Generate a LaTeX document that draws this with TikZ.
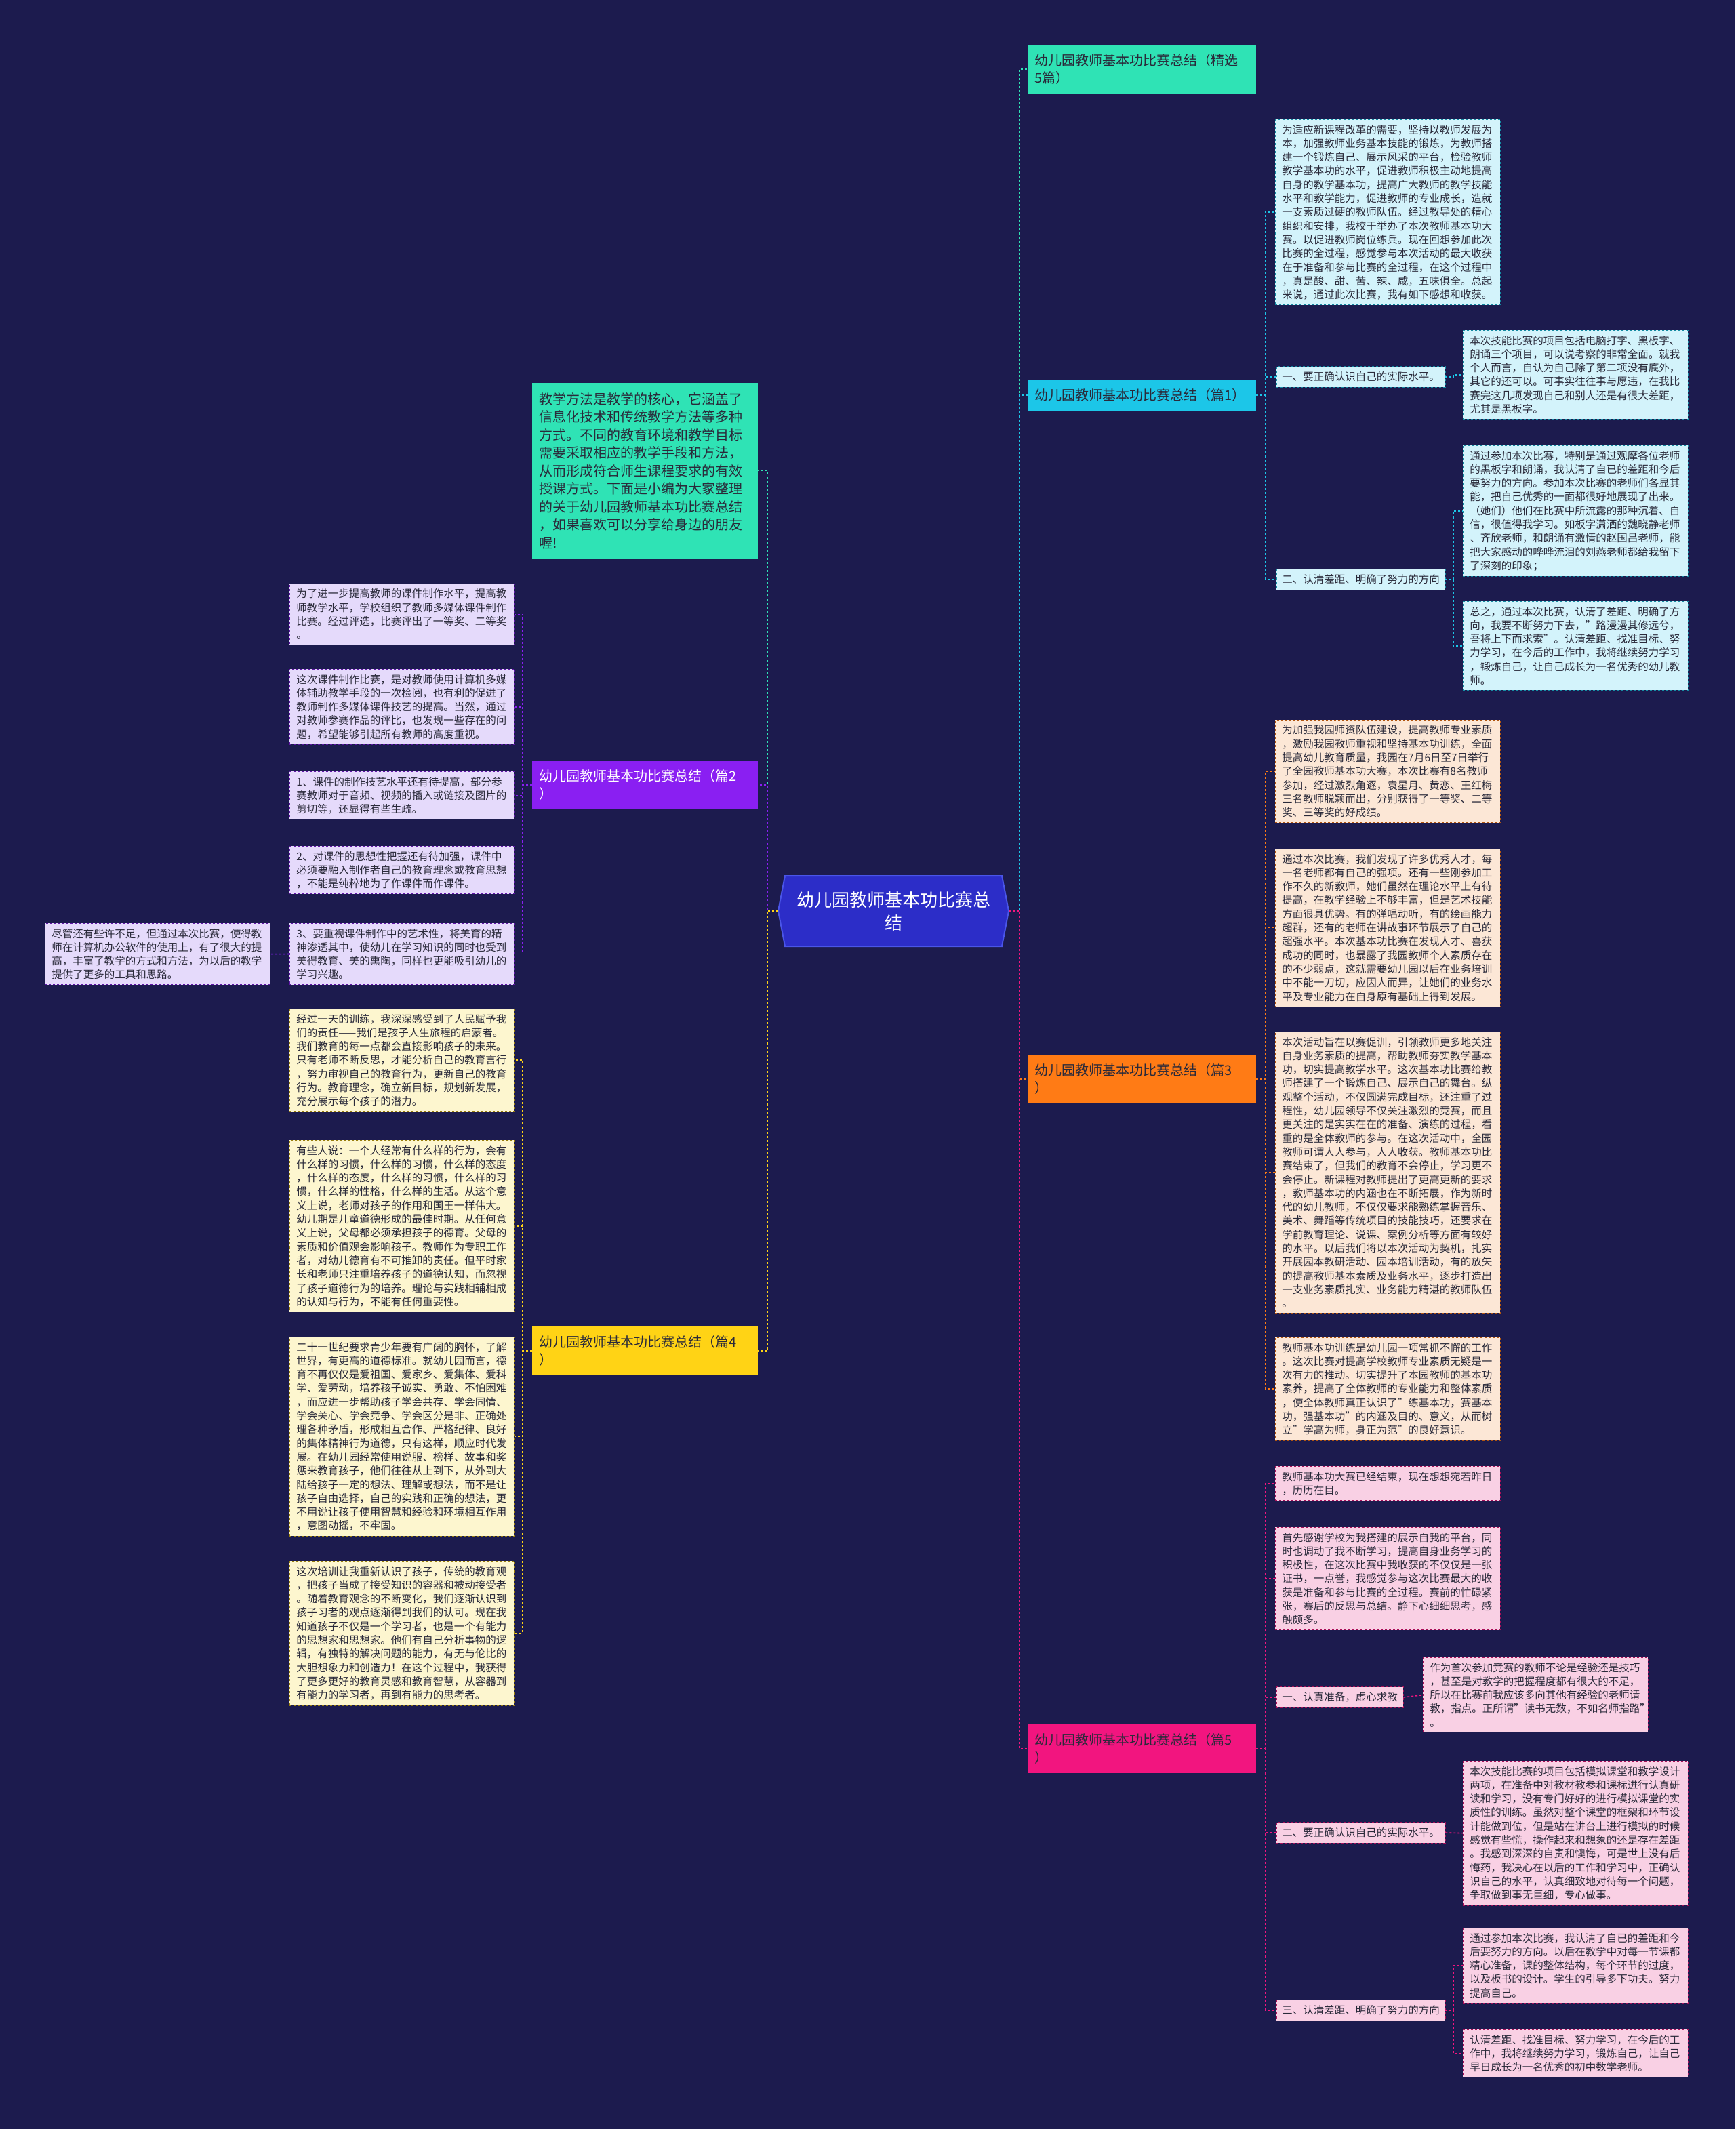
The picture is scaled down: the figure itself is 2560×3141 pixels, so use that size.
\documentclass[tikz,border=0pt]{standalone}
\usepackage{fontspec}
\setmainfont{Noto Sans CJK SC}
\definecolor{bgnavy}{HTML}{1C1B4E}
\definecolor{textdark}{HTML}{2A2A3A}
\definecolor{croot}{HTML}{2C2DC8}
\definecolor{crootline}{HTML}{4A55E8}
\definecolor{cteal}{HTML}{2FE3B5}
\definecolor{ccyan}{HTML}{1CC6E8}
\definecolor{cviolet}{HTML}{8A1FF2}
\definecolor{corange}{HTML}{FF7B15}
\definecolor{cyellow}{HTML}{FFD315}
\definecolor{cpink}{HTML}{F2157F}
\definecolor{lcyan}{HTML}{D3F3FB}
\definecolor{lviolet}{HTML}{E5DAFB}
\definecolor{lorange}{HTML}{FCE7D6}
\definecolor{lyellow}{HTML}{FDF6CF}
\definecolor{lpink}{HTML}{F9D0E4}
\tikzset{
  textbox/.style={rectangle, anchor=north west, text width=312pt, inner xsep=10pt, inner ysep=7.5pt, align=left, font=\fontsize{15.5}{20.3}\selectfont, text=textdark, dashed, line width=0.8pt},
  branch/.style={rectangle, anchor=north west, text width=317pt, inner xsep=10pt, inner ysep=13.5pt, align=left, font=\fontsize{20}{26}\selectfont, text=textdark},
  sublabel/.style={rectangle, anchor=west, inner xsep=8pt, inner ysep=8pt, font=\fontsize{15.5}{20.3}\selectfont, text=textdark, dashed, line width=0.8pt},
  link/.style={dashed, line width=1.6pt},
  cyanbox/.style={textbox, fill=lcyan, draw=ccyan!70!black},
  violetbox/.style={textbox, fill=lviolet, draw=cviolet!70!black},
  orangebox/.style={textbox, fill=lorange, draw=corange!70!black},
  yellowbox/.style={textbox, fill=lyellow, draw=cyellow!60!black},
  pinkbox/.style={textbox, fill=lpink, draw=cpink!70!black}
}

\begin{document}
\begin{tikzpicture}[x=1pt, y=-1pt]
  \useasboundingbox (0,0) rectangle (2560,3141);
  \fill[bgnavy] (0,0) rectangle (2560,3141);

  % pusat
  \filldraw [fill=croot, draw=crootline, line width=2pt] (1158,1292) -- (1478,1292) -- (1488,1344) -- (1478,1396) -- (1158,1396) -- (1148,1344) -- cycle;
  \node (root) [rectangle, minimum width=340pt, minimum height=104pt, text=white, align=center, font=\fontsize{26}{34}\selectfont] at (1318,1344) {幼儿园教师基本功比赛总\\结};

  % cabang kanan
  \node (title) [branch, fill=cteal] at (1516,66) {幼儿园教师基本功比赛总结（精选\\5篇）};
  \node (part1) [branch, fill=ccyan] at (1516,560) {幼儿园教师基本功比赛总结（篇1）};
  \node (part3) [branch, fill=corange] at (1516,1556) {幼儿园教师基本功比赛总结（篇3\\）};
  \node (part5) [branch, fill=cpink] at (1516,2544) {幼儿园教师基本功比赛总结（篇5\\）};

  % cabang kiri
  \node (intro) [branch, fill=cteal, text width=313pt, inner ysep=14pt, font=\fontsize{20}{26.5}\selectfont] at (785,565) {教学方法是教学的核心，它涵盖了\\信息化技术和传统教学方法等多种\\方式。不同的教育环境和教学目标\\需要采取相应的教学手段和方法，\\从而形成符合师生课程要求的有效\\授课方式。下面是小编为大家整理\\的关于幼儿园教师基本功比赛总结\\，如果喜欢可以分享给身边的朋友\\喔!};
  \node (part2) [branch, fill=cviolet, text width=313pt, text=white] at (785,1122) {幼儿园教师基本功比赛总结（篇2\\）};
  \node (part4) [branch, fill=cyellow, text width=313pt] at (785,1957) {幼儿园教师基本功比赛总结（篇4\\）};

  % 篇1
  \node (p1a) [cyanbox] at (1881,176) {为适应新课程改革的需要，坚持以教师发展为\\本，加强教师业务基本技能的锻炼，为教师搭\\建一个锻炼自己、展示风采的平台，检验教师\\教学基本功的水平，促进教师积极主动地提高\\自身的教学基本功，提高广大教师的教学技能\\水平和教学能力，促进教师的专业成长，造就\\一支素质过硬的教师队伍。经过教导处的精心\\组织和安排，我校于举办了本次教师基本功大\\赛。以促进教师岗位练兵。现在回想参加此次\\比赛的全过程，感觉参与本次活动的最大收获\\在于准备和参与比赛的全过程，在这个过程中\\，真是酸、甜、苦、辣、咸，五味俱全。总起\\来说，通过此次比赛，我有如下感想和收获。};
  \node (p1lab1) [sublabel, fill=lcyan, draw=ccyan!70!black] at (1883,556) {一、要正确认识自己的实际水平。};
  \node (p1lab2) [sublabel, fill=lcyan, draw=ccyan!70!black] at (1883,855) {二、认清差距、明确了努力的方向};
  \node (p1b) [cyanbox] at (2158,487) {本次技能比赛的项目包括电脑打字、黑板字、\\朗诵三个项目，可以说考察的非常全面。就我\\个人而言，自认为自己除了第二项没有底外，\\其它的还可以。可事实往往事与愿违，在我比\\赛完这几项发现自己和别人还是有很大差距，\\尤其是黑板字。};
  \node (p1c) [cyanbox] at (2158,657) {通过参加本次比赛，特别是通过观摩各位老师\\的黑板字和朗诵，我认清了自已的差距和今后\\要努力的方向。参加本次比赛的老师们各显其\\能，把自己优秀的一面都很好地展现了出来。\\（她们）他们在比赛中所流露的那种沉着、自\\信，很值得我学习。如板字潇洒的魏晓静老师\\、齐欣老师，和朗诵有激情的赵国昌老师，能\\把大家感动的哗哗流泪的刘燕老师都给我留下\\了深刻的印象；};
  \node (p1d) [cyanbox] at (2158,887) {总之，通过本次比赛，认清了差距、明确了方\\向，我要不断努力下去，"路漫漫其修远兮，\\吾将上下而求索"。认清差距、找准目标、努\\力学习，在今后的工作中，我将继续努力学习\\，锻炼自己，让自己成长为一名优秀的幼儿教\\师。};

  % 篇2
  \node (p2a) [violetbox] at (427,861) {为了进一步提高教师的课件制作水平，提高教\\师教学水平，学校组织了教师多媒体课件制作\\比赛。经过评选，比赛评出了一等奖、二等奖\\。};
  \node (p2b) [violetbox] at (427,987) {这次课件制作比赛，是对教师使用计算机多媒\\体辅助教学手段的一次检阅，也有利的促进了\\教师制作多媒体课件技艺的提高。当然，通过\\对教师参赛作品的评比，也发现一些存在的问\\题，希望能够引起所有教师的高度重视。};
  \node (p2c) [violetbox] at (427,1138) {1、课件的制作技艺水平还有待提高，部分参\\赛教师对于音频、视频的插入或链接及图片的\\剪切等，还显得有些生疏。};
  \node (p2d) [violetbox] at (427,1248) {2、对课件的思想性把握还有待加强，课件中\\必须要融入制作者自己的教育理念或教育思想\\，不能是纯粹地为了作课件而作课件。};
  \node (p2e) [violetbox] at (427,1362) {3、要重视课件制作中的艺术性，将美育的精\\神渗透其中，使幼儿在学习知识的同时也受到\\美得教育、美的熏陶，同样也更能吸引幼儿的\\学习兴趣。};
  \node (p2f) [violetbox] at (66,1362) {尽管还有些许不足，但通过本次比赛，使得教\\师在计算机办公软件的使用上，有了很大的提\\高，丰富了教学的方式和方法，为以后的教学\\提供了更多的工具和思路。};

  % 篇3
  \node (p3a) [orangebox] at (1881,1062) {为加强我园师资队伍建设，提高教师专业素质\\，激励我园教师重视和坚持基本功训练，全面\\提高幼儿教育质量，我园在7月6日至7日举行\\了全园教师基本功大赛，本次比赛有8名教师\\参加，经过激烈角逐，袁星月、黄恋、王红梅\\三名教师脱颖而出，分别获得了一等奖、二等\\奖、三等奖的好成绩。};
  \node (p3b) [orangebox] at (1881,1252) {通过本次比赛，我们发现了许多优秀人才，每\\一名老师都有自己的强项。还有一些刚参加工\\作不久的新教师，她们虽然在理论水平上有待\\提高，在教学经验上不够丰富，但是艺术技能\\方面很具优势。有的弹唱动听，有的绘画能力\\超群，还有的老师在讲故事环节展示了自己的\\超强水平。本次基本功比赛在发现人才、喜获\\成功的同时，也暴露了我园教师个人素质存在\\的不少弱点，这就需要幼儿园以后在业务培训\\中不能一刀切，应因人而异，让她们的业务水\\平及专业能力在自身原有基础上得到发展。};
  \node (p3c) [orangebox] at (1881,1522) {本次活动旨在以赛促训，引领教师更多地关注\\自身业务素质的提高，帮助教师夯实教学基本\\功，切实提高教学水平。这次基本功比赛给教\\师搭建了一个锻炼自己、展示自己的舞台。纵\\观整个活动，不仅圆满完成目标，还注重了过\\程性，幼儿园领导不仅关注激烈的竞赛，而且\\更关注的是实实在在的准备、演练的过程，看\\重的是全体教师的参与。在这次活动中，全园\\教师可谓人人参与，人人收获。教师基本功比\\赛结束了，但我们的教育不会停止，学习更不\\会停止。新课程对教师提出了更高更新的要求\\，教师基本功的内涵也在不断拓展，作为新时\\代的幼儿教师，不仅仅要求能熟练掌握音乐、\\美术、舞蹈等传统项目的技能技巧，还要求在\\学前教育理论、说课、案例分析等方面有较好\\的水平。以后我们将以本次活动为契机，扎实\\开展园本教研活动、园本培训活动，有的放矢\\的提高教师基本素质及业务水平，逐步打造出\\一支业务素质扎实、业务能力精湛的教师队伍\\。};
  \node (p3d) [orangebox] at (1881,1973) {教师基本功训练是幼儿园一项常抓不懈的工作\\。这次比赛对提高学校教师专业素质无疑是一\\次有力的推动。切实提升了本园教师的基本功\\素养，提高了全体教师的专业能力和整体素质\\，使全体教师真正认识了"练基本功，赛基本\\功，强基本功"的内涵及目的、意义，从而树\\立"学高为师，身正为范"的良好意识。};

  % 篇4
  \node (p4a) [yellowbox] at (427,1488) {经过一天的训练，我深深感受到了人民赋予我\\们的责任——我们是孩子人生旅程的启蒙者。\\我们教育的每一点都会直接影响孩子的未来。\\只有老师不断反思，才能分析自己的教育言行\\，努力审视自己的教育行为，更新自己的教育\\行为。教育理念，确立新目标，规划新发展，\\充分展示每个孩子的潜力。};
  \node (p4b) [yellowbox] at (427,1682) {有些人说：一个人经常有什么样的行为，会有\\什么样的习惯，什么样的习惯，什么样的态度\\，什么样的态度，什么样的习惯，什么样的习\\惯，什么样的性格，什么样的生活。从这个意\\义上说，老师对孩子的作用和国王一样伟大。\\幼儿期是儿童道德形成的最佳时期。从任何意\\义上说，父母都必须承担孩子的德育。父母的\\素质和价值观会影响孩子。教师作为专职工作\\者，对幼儿德育有不可推卸的责任。但平时家\\长和老师只注重培养孩子的道德认知，而忽视\\了孩子道德行为的培养。理论与实践相辅相成\\的认知与行为，不能有任何重要性。};
  \node (p4c) [yellowbox] at (427,1972) {二十一世纪要求青少年要有广阔的胸怀，了解\\世界，有更高的道德标准。就幼儿园而言，德\\育不再仅仅是爱祖国、爱家乡、爱集体、爱科\\学、爱劳动，培养孩子诚实、勇敢、不怕困难\\，而应进一步帮助孩子学会共存、学会同情、\\学会关心、学会竞争、学会区分是非、正确处\\理各种矛盾，形成相互合作、严格纪律、良好\\的集体精神行为道德，只有这样，顺应时代发\\展。在幼儿园经常使用说服、榜样、故事和奖\\惩来教育孩子，他们往往从上到下，从外到大\\陆给孩子一定的想法、理解或想法，而不是让\\孩子自由选择，自己的实践和正确的想法，更\\不用说让孩子使用智慧和经验和环境相互作用\\，意图动摇，不牢固。};
  \node (p4d) [yellowbox] at (427,2303) {这次培训让我重新认识了孩子，传统的教育观\\，把孩子当成了接受知识的容器和被动接受者\\。随着教育观念的不断变化，我们逐渐认识到\\孩子习者的观点逐渐得到我们的认可。现在我\\知道孩子不仅是一个学习者，也是一个有能力\\的思想家和思想家。他们有自己分析事物的逻\\辑，有独特的解决问题的能力，有无与伦比的\\大胆想象力和创造力！在这个过程中，我获得\\了更多更好的教育灵感和教育智慧，从容器到\\有能力的学习者，再到有能力的思考者。};

  % 篇5
  \node (p5a) [pinkbox] at (1881,2163) {教师基本功大赛已经结束，现在想想宛若昨日\\，历历在目。};
  \node (p5b) [pinkbox] at (1881,2253) {首先感谢学校为我搭建的展示自我的平台，同\\时也调动了我不断学习，提高自身业务学习的\\积极性，在这次比赛中我收获的不仅仅是一张\\证书，一点誉，我感觉参与这次比赛最大的收\\获是准备和参与比赛的全过程。赛前的忙碌紧\\张，赛后的反思与总结。静下心细细思考，感\\触颇多。};
  \node (p5lab1) [sublabel, fill=lpink, draw=cpink!70!black] at (1883,2504) {一、认真准备，虚心求教};
  \node (p5lab2) [sublabel, fill=lpink, draw=cpink!70!black] at (1883,2704) {二、要正确认识自己的实际水平。};
  \node (p5lab3) [sublabel, fill=lpink, draw=cpink!70!black] at (1883,2966) {三、认清差距、明确了努力的方向};
  \node (p5c) [pinkbox] at (2099,2445) {作为首次参加竞赛的教师不论是经验还是技巧\\，甚至是对教学的把握程度都有很大的不足，\\所以在比赛前我应该多向其他有经验的老师请\\教，指点。正所谓"读书无数，不如名师指路"\\。};
  \node (p5d) [pinkbox] at (2158,2598) {本次技能比赛的项目包括模拟课堂和教学设计\\两项，在准备中对教材教参和课标进行认真研\\读和学习，没有专门好好的进行模拟课堂的实\\质性的训练。虽然对整个课堂的框架和环节设\\计能做到位，但是站在讲台上进行模拟的时候\\感觉有些慌，操作起来和想象的还是存在差距\\。我感到深深的自责和懊悔，可是世上没有后\\悔药，我决心在以后的工作和学习中，正确认\\识自己的水平，认真细致地对待每一个问题，\\争取做到事无巨细，专心做事。};
  \node (p5e) [pinkbox] at (2158,2844) {通过参加本次比赛，我认清了自已的差距和今\\后要努力的方向。以后在教学中对每一节课都\\精心准备，课的整体结构，每个环节的过度，\\以及板书的设计。学生的引导多下功夫。努力\\提高自己。};
  \node (p5f) [pinkbox] at (2158,2994) {认清差距、找准目标、努力学习，在今后的工\\作中，我将继续努力学习，锻炼自己，让自己\\早日成长为一名优秀的初中数学老师。};

  % garis pusat ke cabang
  \draw [link, cteal] (root.east) -- ++(16,0) |- (title.west);
  \draw [link, ccyan] (root.east) -- ++(16,0) |- (part1.west);
  \draw [link, corange] (root.east) -- ++(16,0) |- (part3.west);
  \draw [link, cpink] (root.east) -- ++(16,0) |- (part5.west);
  \draw [link, cteal] (root.west) -- ++(-16,0) |- (intro.east);
  \draw [link, cviolet] (root.west) -- ++(-16,0) |- (part2.east);
  \draw [link, cyellow] (root.west) -- ++(-16,0) |- (part4.east);

  % garis 篇1
  \foreach \n in {p1a, p1lab1, p1lab2}
    \draw [link, ccyan] (part1.east) -- ++(13,0) |- (\n.west);
  \draw [link, ccyan] (p1lab1.east) -- ++(12,0) |- (p1b.west);
  \foreach \n in {p1c, p1d}
    \draw [link, ccyan] (p1lab2.east) -- ++(12,0) |- (\n.west);

  % garis 篇2
  \foreach \n in {p2a, p2b, p2c, p2d, p2e}
    \draw [link, cviolet] (part2.west) -- ++(-14,0) |- (\n.east);
  \draw [link, cviolet] (p2e.west) -- (p2f.east);

  % garis 篇3
  \foreach \n in {p3a, p3b, p3c, p3d}
    \draw [link, corange] (part3.east) -- ++(13,0) |- (\n.west);

  % garis 篇4
  \foreach \n in {p4a, p4b, p4c, p4d}
    \draw [link, cyellow] (part4.west) -- ++(-14,0) |- (\n.east);

  % garis 篇5
  \foreach \n in {p5a, p5b, p5lab1, p5lab2, p5lab3}
    \draw [link, cpink] (part5.east) -- ++(13,0) |- (\n.west);
  \draw [link, cpink] (p5lab1.east) -- (p5c.west);
  \draw [link, cpink] (p5lab2.east) -- (p5d.west);
  \foreach \n in {p5e, p5f}
    \draw [link, cpink] (p5lab3.east) -- ++(12,0) |- (\n.west);

\end{tikzpicture}
\end{document}
